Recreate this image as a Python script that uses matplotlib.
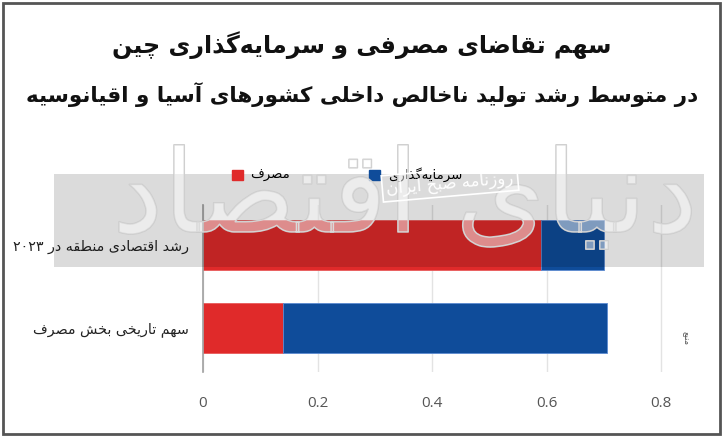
import re
import matplotlib
matplotlib.use('Agg')
import matplotlib.pyplot as plt
import matplotlib.patheffects as pe
from matplotlib.patches import Rectangle, Patch

# data
categories = ['سهم تاریخی بخش مصرف', 'رشد اقتصادی منطقه در ۲۰۲۳']
consumption = [0.14, 0.59]
investment = [0.565, 0.11]
series_names = ['مصرف', 'سرمایه‌گذاری']
xticks = [0, 0.2, 0.4, 0.6, 0.8]
title1 = 'سهم تقاضای مصرفی و سرمایه‌گذاری چین'
title2 = 'در متوسط رشد تولید ناخالص داخلی کشورهای آسیا و اقیانوسیه'

# simple persian shaping (matplotlib has no RTL / joining support)
dual = {'ئ': 0xFE89, 'ب': 0xFE8F, 'ت': 0xFE95, 'ث': 0xFE99, 'ج': 0xFE9D, 'ح': 0xFEA1,
        'خ': 0xFEA5, 'س': 0xFEB1, 'ش': 0xFEB5, 'ص': 0xFEB9, 'ض': 0xFEBD, 'ط': 0xFEC1,
        'ظ': 0xFEC5, 'ع': 0xFEC9, 'غ': 0xFECD, 'ف': 0xFED1, 'ق': 0xFED5, 'ل': 0xFEDD,
        'م': 0xFEE1, 'ن': 0xFEE5, 'ه': 0xFEE9, 'ي': 0xFEF1, 'پ': 0xFB56, 'چ': 0xFB7A,
        'ک': 0xFB8E, 'گ': 0xFB92, 'ی': 0xFBFC}
right = {'آ': 0xFE81, 'أ': 0xFE83, 'ؤ': 0xFE85, 'إ': 0xFE87, 'ا': 0xFE8D, 'د': 0xFEA9,
         'ذ': 0xFEAB, 'ر': 0xFEAD, 'ز': 0xFEAF, 'و': 0xFEED, 'ژ': 0xFB8A, 'ة': 0xFE93}


def fa(s):
    out = []
    for i, c in enumerate(s):
        prev = s[i-1] if i > 0 else ''
        nxt = s[i+1] if i + 1 < len(s) else ''
        if c in dual or c in right:
            base = dual.get(c, right.get(c))
            p = prev in dual
            n = c in dual and (nxt in dual or nxt in right)
            off = 3 if (p and n) else 1 if p else 2 if n else 0
            out.append(chr(base + off))
        elif c == '\u200c':
            continue
        else:
            out.append(c)
    vis = ''.join(out)[::-1]
    return re.sub(r'[0-9۰-۹.]+', lambda m: m.group(0)[::-1], vis)


def fit_width(txt, target_px):
    # rescale font so the text spans about target_px
    r = fig.canvas.get_renderer()
    w = txt.get_window_extent(renderer=r).width
    txt.set_fontsize(txt.get_fontsize() * target_px / w)


plt.rcParams['font.family'] = ['DejaVu Sans']

red = '#e02a2a'
blue = '#0f4c9a'

fig = plt.figure(figsize=(7.24, 4.38), dpi=100)
ax = fig.add_axes([203/724, 1-372/438, 0.83*572.5/724, 167/438])

y = [0, 1]
ax.barh(y, consumption, height=0.6, color=red, edgecolor='#e85a5a', linewidth=0.6, zorder=2)
ax.barh(y, investment, left=consumption, height=0.6, color=blue, edgecolor='#5b8ad0',
        linewidth=0.6, zorder=2)

ax.set_xlim(0, 0.83)
ax.set_ylim(-0.53, 1.48)
ax.set_xticks(xticks)
ax.set_xticklabels([f'{v:g}' for v in xticks], fontfamily='Open Sans', fontsize=11, color='#555555')
ax.set_yticks(y)
ax.set_yticklabels([fa(c) for c in categories], fontsize=10.3, color='#222222')
ax.tick_params(axis='x', length=0, pad=17)
ax.tick_params(axis='y', length=0, pad=10)
ax.grid(axis='x', color='#e3e3e3', linewidth=1, zorder=0)
for s in ['top', 'right', 'bottom']:
    ax.spines[s].set_visible(False)
ax.spines['left'].set_color('#a0a0a0')
ax.spines['left'].set_linewidth(1.2)

handles = [Patch(color=red), Patch(color=blue)]
fig.legend(handles, [fa(n) for n in series_names], loc='center', ncol=2,
           bbox_to_anchor=(347/724, 1-175/438), frameon=False, fontsize=9.5,
           handlelength=0.8, handleheight=0.8, handletextpad=0.6, columnspacing=6)

t1 = fig.text(362/724, 1-45/438, fa(title1), ha='center', va='center', fontsize=17,
              fontweight='bold', color='#111111')
t2 = fig.text(362/724, 1-95/438, fa(title2), ha='center', va='center', fontsize=17,
              fontweight='bold', color='#111111')
fit_width(t1, 500)
fit_width(t2, 672)

# watermark
fig.patches.append(Rectangle((54/724, 1-267/438), 650/724, 93/438, transform=fig.transFigure,
                             facecolor='black', alpha=0.14, edgecolor='none', zorder=5))
wm = fig.text(405/724, 1-200/438, fa('دنیای اقتصاد'), ha='center', va='center', fontsize=90,
              color=(1, 1, 1, 0.28), zorder=6,
              path_effects=[pe.withStroke(linewidth=1.1, foreground='#cccccc')])
fit_width(wm, 585)
fig.text(450/724, 1-183/438, fa('روزنامه صبح ایران'), ha='center', va='center', fontsize=12,
         color='white', rotation=5, zorder=7,
         bbox=dict(facecolor='none', edgecolor='white', linewidth=1.2, pad=3))
fig.text(686/724, 1-338/438, fa('منبع'), ha='center', va='center', fontsize=6,
         color='#555555', rotation=270)

# frame
fig.patches.append(Rectangle((3/724, 4/438), 717/724, 431/438, transform=fig.transFigure,
                             facecolor='none', edgecolor='#555555', linewidth=2, zorder=8))

fig.savefig('out.png', dpi=100)
